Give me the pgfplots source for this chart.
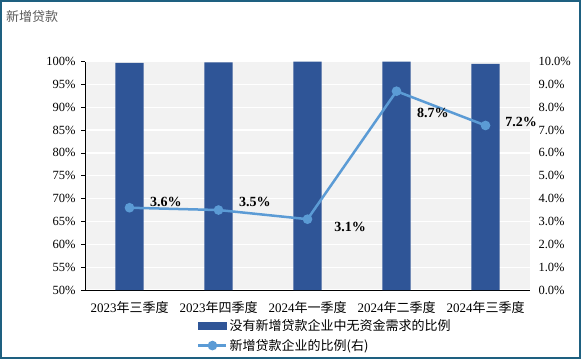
\documentclass[border=0pt]{standalone}
\usepackage{pgfplots}
\pgfplotsset{compat=1.18}
\usepackage{fontspec}
\setmainfont{Liberation Serif}
\newfontfamily\cjk{Noto Sans CJK SC}
\definecolor{barblue}{HTML}{2F5597}
\definecolor{lineblue}{HTML}{5B9BD5}
\definecolor{bgray}{HTML}{F2F2F2}
\definecolor{frame}{HTML}{1E6080}
\definecolor{titlegray}{HTML}{595959}
\newcommand{\fs}{\fontsize{13bp}{15bp}\selectfont}
\newcommand{\fsT}{\fontsize{12.5bp}{14bp}\selectfont}
\pgfplotsset{
  barleg/.style={legend image code/.code={\fill[barblue] (0bp,-3.5bp) rectangle (28bp,3.5bp);}},
  lineleg/.style={legend image code/.code={\draw[##1, mark repeat=2, mark phase=2] plot coordinates {(0bp,0bp) (14bp,0bp) (28bp,0bp)};}},
}
\begin{document}
\begin{tikzpicture}[x=1bp,y=1bp]
\useasboundingbox (0,0) rectangle (581,359);
\draw[frame, line width=1.6bp] (0.8,0.8) rectangle (580.2,358.2);
\node[anchor=west, text=titlegray, font=\cjk\fs, inner sep=0pt] at (6,342) {新增贷款};
\begin{axis}[
  at={(85bp,69bp)}, anchor=south west,
  scale only axis, width=445bp, height=228.5bp,
  xmin=-0.5, xmax=4.5, ymin=50, ymax=100,
  axis background/.style={fill=bgray},
  axis x line*=bottom, axis y line*=left,
  axis line style={-, black, line width=0.8bp},
  xtick={0,1,2,3,4},
  xticklabels={2023{\cjk 年三季度},2023{\cjk 年四季度},2024{\cjk 年一季度},2024{\cjk 年二季度},2024{\cjk 年三季度}},
  x tick label style={font=\fs, yshift=-3.5bp},
  minor xtick={-0.5,0.5,1.5,2.5,3.5,4.5},
  tick align=outside,
  x tick style={draw=none},
  minor x tick style={black, line width=0.8bp},
  minor tick length=5bp,
  ytick={50,55,...,100},
  y tick style={black, line width=0.8bp},
  major tick length=4bp,
  yticklabel={\pgfmathprintnumber{\tick}\%},
  y tick label style={font=\fsT, xshift=-2bp},
  /pgf/number format/assume math mode=true,
  ymajorgrids, grid style={white, line width=1.2bp},
  ybar, bar width=0.32,
]
\addplot[fill=barblue, draw=none] coordinates {(0,99.7) (1,99.8) (2,100) (3,100) (4,99.5)};
\end{axis}
\begin{axis}[
  at={(85bp,69bp)}, anchor=south west,
  scale only axis, width=445bp, height=228.5bp,
  xmin=-0.5, xmax=4.5, ymin=0, ymax=10,
  axis x line=none, axis y line*=right,
  y axis line style={draw=none},
  ytick={0,1,...,10},
  major tick length=0pt,
  yticklabel={\pgfmathprintnumber[fixed,fixed zerofill,precision=1]{\tick}\%},
  y tick label style={font=\fsT, xshift=5bp},
  /pgf/number format/assume math mode=true,
  clip=false,
  legend style={at={(0.2517,-0.125)}, anchor=north west, draw=none, fill=none,
    font=\cjk\fs, inner sep=0pt, row sep=5bp, nodes={inner xsep=2bp, inner ysep=1bp}},
  legend cell align=left,
]
\addlegendimage{barleg}
\addlegendentry{没有新增贷款企业中无资金需求的比例}
\addplot[lineblue, line width=2.5bp, mark=*, mark size=3.5bp, mark options={fill=lineblue, draw=lineblue}, lineleg]
  coordinates {(0,3.6) (1,3.5) (2,3.1) (3,8.7) (4,7.2)};
\addlegendentry{新增贷款企业的比例(右)}
\node[font=\bfseries\fontsize{14bp}{16bp}\selectfont] at (axis cs:0.408,3.85) {3.6\%};
\node[font=\bfseries\fontsize{14bp}{16bp}\selectfont] at (axis cs:1.41,3.85) {3.5\%};
\node[font=\bfseries\fontsize{14bp}{16bp}\selectfont] at (axis cs:2.478,2.76) {3.1\%};
\node[font=\bfseries\fontsize{14bp}{16bp}\selectfont] at (axis cs:3.41,7.75) {8.7\%};
\node[font=\bfseries\fontsize{14bp}{16bp}\selectfont] at (axis cs:4.40,7.36) {7.2\%};
\end{axis}
\end{tikzpicture}
\end{document}
